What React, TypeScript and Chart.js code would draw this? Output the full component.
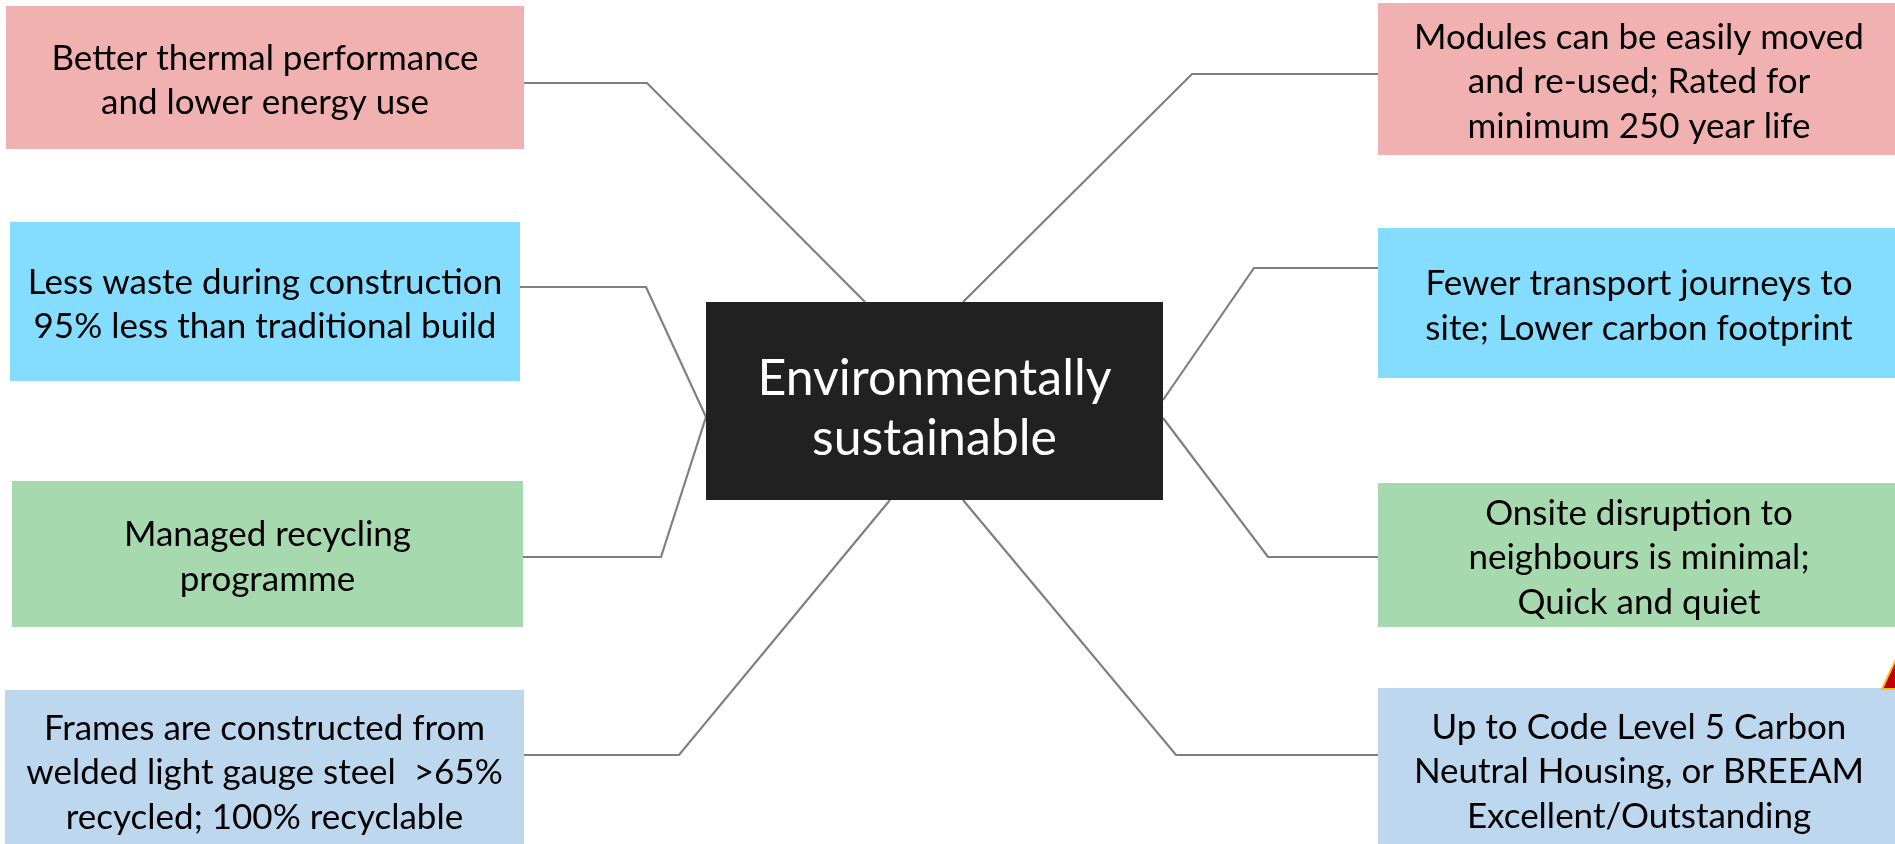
import React, { useEffect, useRef } from "react";
import { Chart, registerables } from "chart.js";

Chart.register(...registerables);

const W = 1895;
const H = 844;

// Mind-map content
const centerText = ["Environmentally", "sustainable"];
const nodeTexts = [
  ["Better thermal performance", "and lower energy use"],
  ["Less waste during construction", "95% less than traditional build"],
  ["Managed recycling", "programme"],
  ["Frames are constructed from", "welded light gauge steel  >65%", "recycled; 100% recyclable"],
  ["Modules can be easily moved", "and re-used; Rated for", "minimum 250 year life"],
  ["Fewer transport journeys to", "site; Lower carbon footprint"],
  ["Onsite disruption to", "neighbours is minimal;", "Quick and quiet"],
  ["Up to Code Level 5 Carbon", "Neutral Housing, or BREEAM", "Excellent/Outstanding"],
];
const nodeGroup = [0, 1, 2, 3, 0, 1, 2, 3];

// Node extents in diagram units
const nodeX0 = [6, 10, 12, 5, 1378, 1378, 1378, 1378];
const nodeX1 = [524, 520, 523, 524, 1900, 1900, 1900, 1900];
const nodeY0 = [6, 222, 481, 690, 3, 228, 483, 688];
const nodeY1 = [149, 381, 627, 850, 155, 378, 627, 850];
const centerX = [706, 1163];
const centerY = [302, 500];

// Connector polylines (node edge -> elbow -> centre edge)
const connectorX = [
  [524, 647, 865],
  [520, 646, 706],
  [523, 661, 706],
  [524, 679, 890],
  [1378, 1192, 963],
  [1378, 1254, 1163],
  [1378, 1268, 1163],
  [1378, 1176, 963],
];
const connectorY = [
  [83, 83, 302],
  [287, 287, 417],
  [557, 557, 417],
  [755, 755, 500],
  [74, 74, 302],
  [268, 268, 400],
  [557, 557, 418],
  [755, 755, 500],
];

// Partial decoration at the right edge
const markX = [1882, 1897, 1897];
const markY = [689, 657, 689];

const GROUP_COLORS = ["#F2B1B1", "#84DDFF", "#A7D9AF", "#BDD7EE"];
const LINE_COLOR = "#7F7F7F";
const CENTER_COLOR = "#212121";
const FONT = "Lato, 'Open Sans', sans-serif";

export default function App() {
  const ref = useRef<HTMLCanvasElement | null>(null);

  useEffect(() => {
    const canvas = ref.current;
    if (!canvas) return;

    const datasets = connectorX.map((xs, i) => ({
      label: "link" + i,
      data: xs.map((x, j) => ({ x, y: connectorY[i][j] })),
      showLine: true,
      borderColor: LINE_COLOR,
      borderWidth: 2.2,
      pointRadius: 0,
      tension: 0,
      fill: false,
    }));

    const nodesPlugin = {
      id: "nodes",
      afterDatasetsDraw(chart: any) {
        const ctx = chart.ctx as CanvasRenderingContext2D;
        const xs = chart.scales.x;
        const ys = chart.scales.y;
        const px = (v: number) => xs.getPixelForValue(v);
        const py = (v: number) => ys.getPixelForValue(v);
        ctx.save();
        // side nodes
        nodeTexts.forEach((lines, i) => {
          const x0 = px(nodeX0[i]);
          const x1 = px(nodeX1[i]);
          const y0 = py(nodeY0[i]);
          const y1 = py(nodeY1[i]);
          ctx.fillStyle = GROUP_COLORS[nodeGroup[i]];
          ctx.fillRect(x0, y0, x1 - x0, y1 - y0);
          ctx.fillStyle = "#000000";
          ctx.font = `35px ${FONT}`;
          ctx.textAlign = "center";
          ctx.textBaseline = "middle";
          const cx = (x0 + x1) / 2;
          const cy = (y0 + y1) / 2 + 3;
          const lh = 44.5;
          lines.forEach((t, k) => {
            ctx.fillText(t, cx, cy + (k - (lines.length - 1) / 2) * lh);
          });
        });
        // centre node
        const cx0 = px(centerX[0]);
        const cx1 = px(centerX[1]);
        const cy0 = py(centerY[0]);
        const cy1 = py(centerY[1]);
        ctx.fillStyle = CENTER_COLOR;
        ctx.fillRect(cx0, cy0, cx1 - cx0, cy1 - cy0);
        ctx.fillStyle = "#FFFFFF";
        ctx.font = `50px ${FONT}`;
        ctx.textAlign = "center";
        ctx.textBaseline = "middle";
        const ccx = (cx0 + cx1) / 2;
        const ccy = (cy0 + cy1) / 2 + 8;
        centerText.forEach((t, k) => {
          ctx.fillText(t, ccx, ccy + (k - (centerText.length - 1) / 2) * 60);
        });
        // edge decoration
        ctx.beginPath();
        markX.forEach((x, k) => {
          if (k === 0) ctx.moveTo(px(x), py(markY[k]));
          else ctx.lineTo(px(x), py(markY[k]));
        });
        ctx.closePath();
        ctx.fillStyle = "#C00000";
        ctx.fill();
        ctx.strokeStyle = "#FFC000";
        ctx.lineWidth = 2;
        ctx.stroke();
        ctx.restore();
      },
    };

    const chart = new Chart(canvas, {
      type: "scatter",
      data: { datasets },
      options: {
        animation: false,
        responsive: false,
        maintainAspectRatio: false,
        devicePixelRatio: 1,
        layout: { padding: 0 },
        events: [],
        scales: {
          x: { type: "linear", min: 0, max: W, display: false },
          y: { type: "linear", min: 0, max: H, reverse: true, display: false },
        },
        plugins: {
          legend: { display: false },
          tooltip: { enabled: false },
          title: { display: false },
        },
      },
      plugins: [nodesPlugin],
    });
    return () => chart.destroy();
  }, []);

  return (
    <div style={{ position: "fixed", left: 0, top: 0, width: W, height: H, background: "#FFFFFF" }}>
      <canvas ref={ref} width={W} height={H} style={{ display: "block", width: W, height: H }} />
    </div>
  );
}
